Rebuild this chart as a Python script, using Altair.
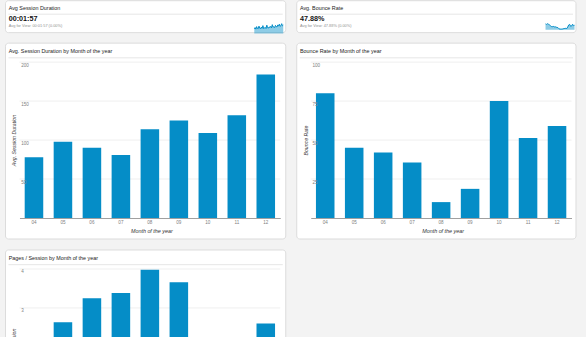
import altair as alt
import pandas as pd

FONT = "Liberation Sans"
BLUE = "#058dc7"

# ---------------- data ----------------
months = ["04", "05", "06", "07", "08", "09", "10", "11", "12"]
avg_session = [78, 98, 90, 81, 114, 125, 109, 132, 184]
bounce_rate = [80, 45, 42, 35.6, 10.2, 18.7, 75, 51.4, 59]
pages_session = [2.1, 2.63, 3.25, 3.38, 3.98, 3.66, 1.9, 2.2, 2.6]

session_ticks = [50, 100, 150, 200]
bounce_ticks = [25, 50, 75, 100]
pages_ticks = [1, 2, 3, 4]

spark_session = [95, 120, 88, 140, 102, 97, 150, 110, 92, 130, 105, 160, 98, 115,
                 125, 100, 170, 118, 108, 135, 122, 145, 112, 180, 128, 138, 119,
                 165, 140, 132, 175, 150, 190, 145, 160, 200, 155, 170]
spark_bounce = [85, 78, 88, 80, 72, 60, 48, 45, 50, 42, 44, 38, 35, 30, 15, 10, 12,
                10, 14, 18, 20, 22, 19, 40, 70, 78, 50, 55, 80, 60, 65]

kpi_titles = ["Avg Session Duration", "Avg. Bounce Rate"]
kpi_values = ["00:01:57", "47.88%"]
kpi_subs = ["Avg for View: 00:01:57 (0.00%)", "Avg for View: 47.88% (0.00%)"]

PLOT_W = 261
PLOT_H = 156
KPI_H = 11

one = pd.DataFrame({"k": [0]})


def decorations(title, top, bottom, right, sep_y, title_y):
    rect = alt.Chart(one).mark_rect(
        fill="white", stroke="#dcdcdc", strokeWidth=1, cornerRadius=3
    ).encode(x=alt.value(-14), x2=alt.value(right), y=alt.value(top), y2=alt.value(bottom))
    sep = alt.Chart(one).mark_rule(color="#e6e6e6", strokeWidth=1).encode(
        x=alt.value(-11), x2=alt.value(right - 3), y=alt.value(sep_y))
    ttl = alt.Chart(one).mark_text(
        align="left", baseline="middle", fontSize=5.4, color="#1a1a1a", font=FONT
    ).encode(x=alt.value(-10.8), y=alt.value(title_y), text=alt.value(title))
    return [rect, sep, ttl]


def kpi(idx, spark, right):
    layers = decorations(kpi_titles[idx], 0.5, 32.5, right, 14, 7.8)
    big = alt.Chart(one).mark_text(
        align="left", baseline="middle", fontSize=7.2, fontWeight="bold", color="#111", font=FONT
    ).encode(x=alt.value(-10.8), y=alt.value(18.8), text=alt.value(kpi_values[idx]))
    small = alt.Chart(one).mark_text(
        align="left", baseline="middle", fontSize=3.9, color="#8f8f8f", font=FONT
    ).encode(x=alt.value(-10.8), y=alt.value(26), text=alt.value(kpi_subs[idx]))
    sdf = pd.DataFrame({"i": list(range(len(spark))), "v": spark})
    xs = alt.Scale(domain=[0, len(spark) - 1], range=[235, 264], nice=False, zero=False)
    ys = alt.Scale(domain=[min(spark), max(spark)], range=[29, 23.5], nice=False, zero=False)
    area = alt.Chart(sdf).mark_area(color=BLUE, opacity=0.45).encode(
        x=alt.X("i:Q", scale=xs, axis=None),
        y=alt.Y("v:Q", scale=ys, axis=None),
        y2=alt.value(29))
    line = alt.Chart(sdf).mark_line(color=BLUE, strokeWidth=1).encode(
        x=alt.X("i:Q", scale=xs, axis=None),
        y=alt.Y("v:Q", scale=ys, axis=None))
    return alt.layer(*layers, big, small, area, line).properties(width=PLOT_W, height=KPI_H)


def bar_panel(title, ytitle, values, ticks, ymax, right, title_x):
    df = pd.DataFrame({"month": months, "value": values})
    gdf = pd.DataFrame({"value": ticks})
    yscale = alt.Scale(domain=[0, ymax], nice=False, zero=True)
    xscale = alt.Scale(domain=months, paddingInner=0.36, paddingOuter=0.18)
    yaxis = alt.Axis(
        title=ytitle, values=ticks, grid=False, domain=False, ticks=False, tickSize=0,
        labelAlign="left", labelBaseline="middle", labelPadding=-1.2, labelOffset=3,
        labelFontSize=4.6, labelColor="#808080", labelFont=FONT,
        titleFont=FONT, titleFontSize=5.2, titleFontStyle="italic", titleFontWeight="normal",
        titleColor="#333", titleX=title_x, titleY=PLOT_H / 2, titleAlign="center",
        titleBaseline="middle", zindex=1)
    xaxis = alt.Axis(
        title="Month of the year", labelAngle=0, grid=False, ticks=False, tickSize=0,
        domain=True, domainColor="#a0a0a0", domainWidth=1,
        labelFontSize=4.6, labelColor="#808080", labelFont=FONT, labelPadding=4.7,
        labelBaseline="middle", titleFont=FONT, titleFontSize=5.4, titleFontStyle="italic",
        titleFontWeight="normal", titleColor="#333", titleX=PLOT_W / 2 + 1.5, titleY=12.7,
        titleAlign="center", titleBaseline="middle", zindex=1)
    grid = alt.Chart(gdf).mark_rule(color="#efefef", strokeWidth=1).encode(
        y=alt.Y("value:Q", scale=yscale, axis=yaxis),
        x=alt.value(0), x2=alt.value(PLOT_W))
    bars = alt.Chart(df).mark_bar(color=BLUE).encode(
        x=alt.X("month:N", scale=xscale, sort=months, axis=xaxis),
        y=alt.Y("value:Q", scale=yscale, axis=yaxis))
    layers = decorations(title, -19, 177, right, -4.3, -11.3)
    return alt.layer(*layers, grid, bars).properties(width=PLOT_W, height=PLOT_H)


k1 = kpi(0, spark_session, 266.5)
k2 = kpi(1, spark_bounce, 265.5)
p3 = bar_panel("Avg. Session Duration by Month of the year", "Avg. Session Duration",
               avg_session, session_ticks, 200, 266.5, -6.2)
p4 = bar_panel("Bounce Rate by Month of the year", "Bounce Rate",
               bounce_rate, bounce_ticks, 100, 265.5, -5.5)
p5 = bar_panel("Pages / Session by Month of the year", "Pages / Session",
               pages_session, pages_ticks, 4, 266.5, -6.2)

chart = alt.concat(
    k1, k2, p3, p4, p5, columns=2, spacing={"row": 51, "column": 30.5}, bounds="flush"
).properties(
    padding={"left": 4.5, "top": 0, "right": 9, "bottom": 5},
    background="#f3f3f3",
).configure_view(stroke=None)

chart.save("out.html", embed_options={"renderer": "svg", "actions": False})
